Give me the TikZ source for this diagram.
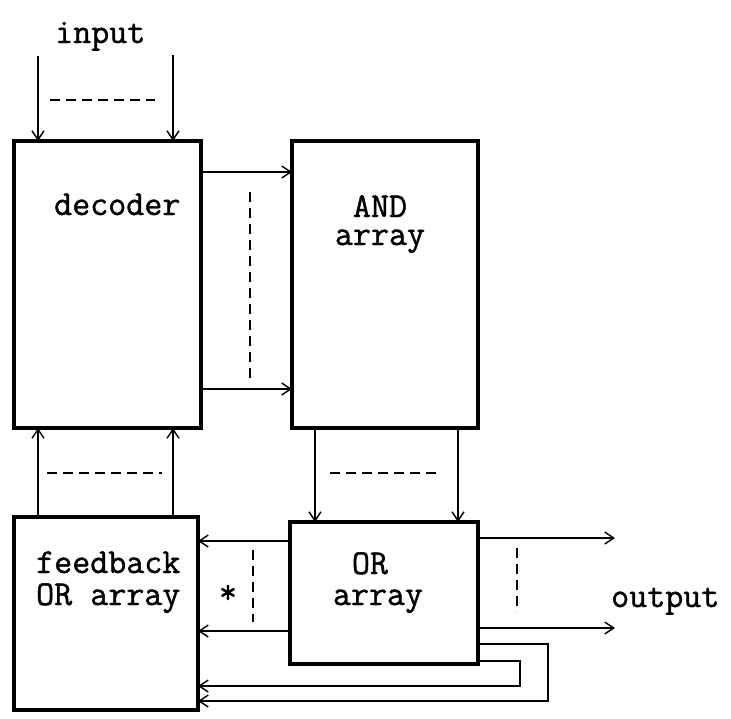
\documentclass[tikz,border=0pt]{standalone}
\usepackage{fontspec}
\newfontfamily\twfont{Latin Modern Mono}[FakeBold=1.2]
\usetikzlibrary{arrows.meta}
\begin{document}
\begin{tikzpicture}[x=1pt,y=-1pt,
  box/.style={draw, line width=3.4pt, inner sep=0pt, outer sep=0pt},
  arr/.style={line width=1.4pt, -{Straight Barb[length=9pt,width=12pt,line width=1.4pt]}},
  dsh/.style={line width=2pt, dash pattern=on 10pt off 6pt},
  txt/.style={font=\twfont\fontsize{35}{38}\selectfont, inner sep=0pt}]
\fill[white] (0,0) rectangle (731,718);
\useasboundingbox (0,0) rectangle (731,718);
% boxes
\node[box, minimum width=187pt, minimum height=287pt] (dec) at (107.5,284.5) {};
\node[box, minimum width=186pt, minimum height=287pt] (andb) at (385,284.5) {};
\node[box, minimum width=188pt, minimum height=142pt] (orb) at (384,593) {};
\node[box, minimum width=184pt, minimum height=193pt] (fb) at (106,613.5) {};
% texts
\node[txt, anchor=base west] (tin) at (55,43) {input};
\node[txt, anchor=base west] (tdec) at (54,215) {decoder};
\node[txt, anchor=base, align=center, font=\twfont\fontsize{35}{28}\selectfont] (tand) at (380,245) {AND\\array};
\node[txt, anchor=base west, align=left, font=\twfont\fontsize{35}{32}\selectfont] (tfb) at (36,605) {feedback\\OR array};
\node[txt, anchor=base, align=center, font=\twfont\fontsize{35}{31}\selectfont] (tor) at (378,605) {OR\rule{16pt}{0pt}\\array};
\node[txt] (star) at (228,594) {*};
\node[txt, anchor=base west] (tout) at (611,607) {output};
% input arrows
\coordinate (i1) at (38,56);
\coordinate (i2) at (173,55);
\draw[arr] (i1) -- (i1 |- dec.north);
\draw[arr] (i2) -- (i2 |- dec.north);
\draw[dsh] (50,100) -- (155,100);
% decoder -> AND
\draw[arr] (dec.east |- 0,172) -- (andb.west |- 0,172);
\draw[arr] (dec.east |- 0,389) -- (andb.west |- 0,389);
\draw[dsh] (250,192) -- (250,380);
% feedback -> decoder
\draw[arr] (fb.north -| i1) -- (dec.south -| i1);
\draw[arr] (fb.north -| i2) -- (dec.south -| i2);
\draw[dsh] (47,473) -- (162,473);
% AND -> OR
\coordinate (a1) at (315,0);
\coordinate (a2) at (458,0);
\draw[arr] (andb.south -| a1) -- (orb.north -| a1);
\draw[arr] (andb.south -| a2) -- (orb.north -| a2);
\draw[dsh] (330,473) -- (437,473);
% OR -> feedback
\draw[arr] (orb.west |- 0,541) -- (fb.east |- 0,541);
\draw[arr] (orb.west |- 0,631) -- (fb.east |- 0,631);
\draw[dsh] (253,550) -- (253,622);
% outputs
\coordinate (o1) at (615,538);
\coordinate (o2) at (615,628);
\draw[arr] (orb.east |- o1) -- (o1);
\draw[arr] (orb.east |- o2) -- (o2);
\draw[dsh] (517,548) -- (517,612);
% feedback loops
\draw[arr] (orb.east |- 0,661) -| (520,686) -- (fb.east |- 0,686);
\draw[arr] (orb.east |- 0,644) -| (548,701) -- (fb.east |- 0,701);
\end{tikzpicture}
\end{document}
